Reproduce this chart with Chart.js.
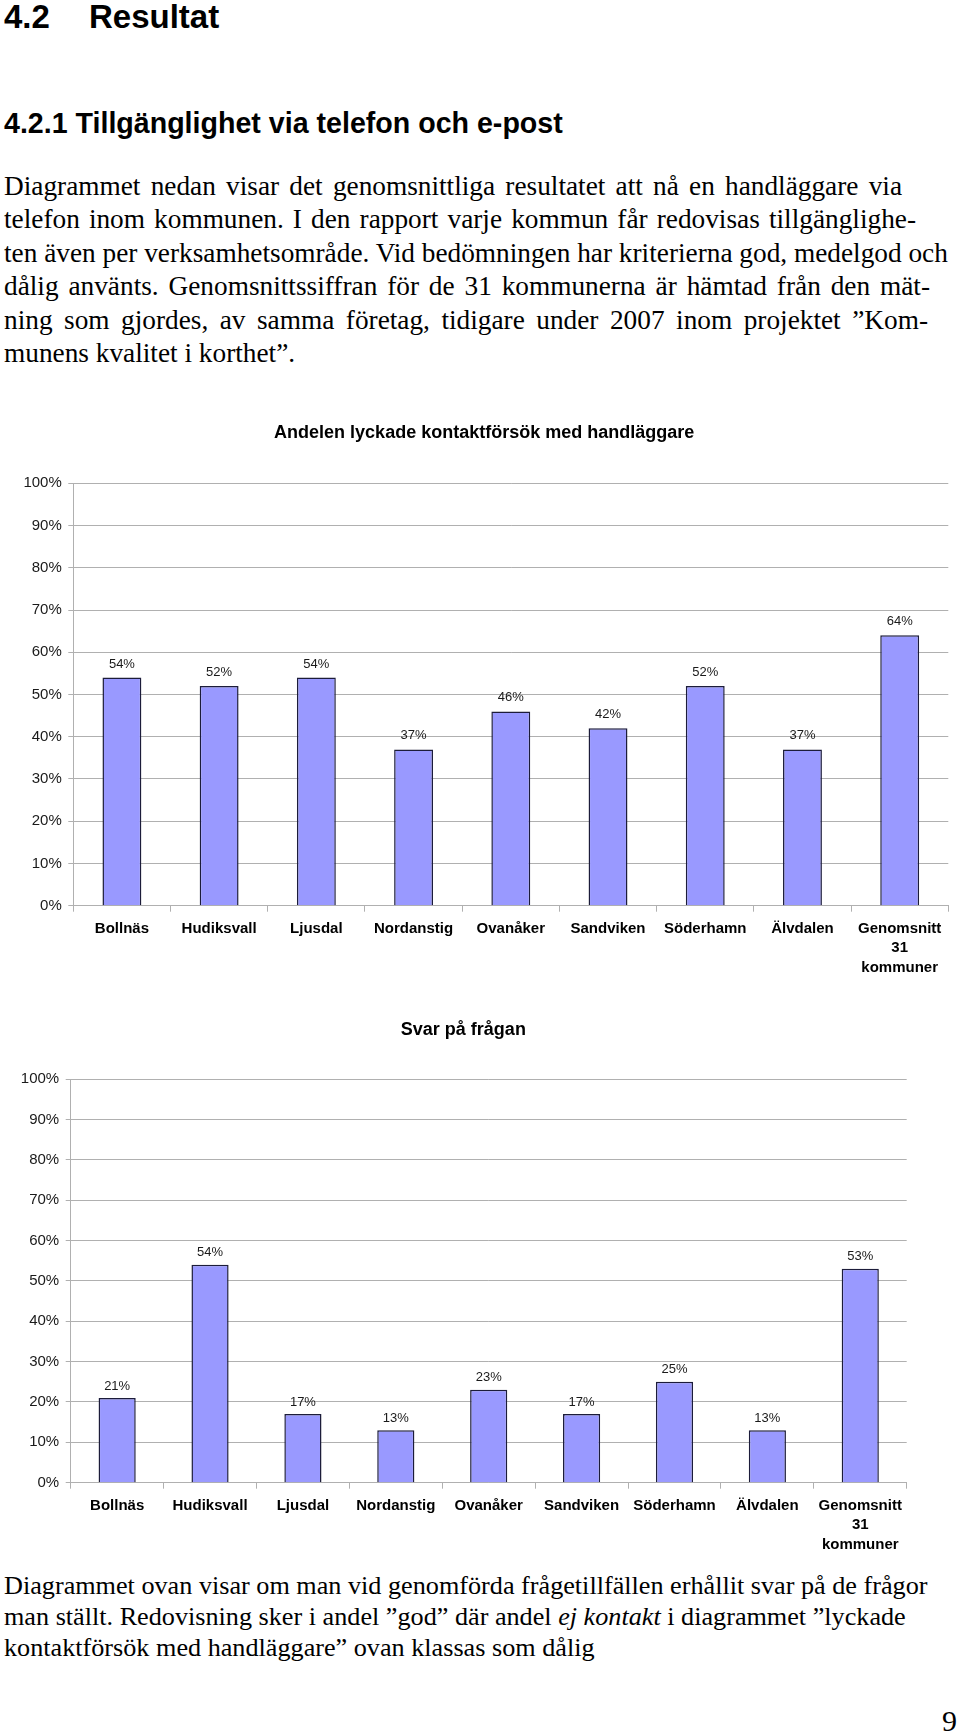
<!DOCTYPE html>
<html lang="sv">
<head>
<meta charset="utf-8">
<title>4.2 Resultat</title>
<script src="https://cdn.jsdelivr.net/npm/chart.js@4.4.1/dist/chart.umd.min.js"></script>
<style>
  html, body { margin: 0; padding: 0; background: #fff; }
  body { position: relative; width: 960px; height: 1736px; overflow: hidden; }
  .head { position: absolute; font-family: "Liberation Sans", Arial, sans-serif; font-weight: bold; color: #000; white-space: nowrap; }
  .h1 { top: 0px; font-size: 33px; line-height: 33px; }
  .h2 { top: 108.5px; left: 4px; font-size: 28.6px; line-height: 28.6px; }
  .txt { position: absolute; left: 4px; font-family: "Liberation Serif", "Times New Roman", serif; color: #000; white-space: nowrap; }
  .txt div { white-space: nowrap; }
  .txt .j { text-align: justify; text-align-last: justify; }
  #intro { top: 169.5px; font-size: 27.3px; line-height: 33.5px; }
  #outro { top: 1570px; font-size: 26.2px; line-height: 31px; }
  #pageno { position: absolute; left: 942px; top: 1706px; font-family: "Liberation Serif", serif; font-size: 30px; line-height: 30px; }
  canvas { position: absolute; left: 0; }
  #chart1 { top: 400px; }
  #chart2 { top: 1000px; }
</style>
</head>
<body>
<div class="head h1" style="left:4px">4.2</div>
<div class="head h1" style="left:89px">Resultat</div>
<div class="head h2">4.2.1 Tillgänglighet via telefon och e-post</div>

<div class="txt" id="intro">
  <div class="j" style="width:898px">Diagrammet nedan visar det genomsnittliga resultatet att nå en handläggare via</div>
  <div class="j" style="width:912px">telefon inom kommunen. I den rapport varje kommun får redovisas tillgänglighe-</div>
  <div>ten även per verksamhetsområde. Vid bedömningen har kriterierna god, medelgod och</div>
  <div class="j" style="width:926px">dålig använts. Genomsnittssiffran för de 31 kommunerna är hämtad från den mät-</div>
  <div class="j" style="width:924px">ning som gjordes, av samma företag, tidigare under 2007 inom projektet ”Kom-</div>
  <div>munens kvalitet i korthet”.</div>
</div>

<canvas id="chart1" width="960" height="600"></canvas>
<canvas id="chart2" width="925" height="560"></canvas>

<div class="txt" id="outro">Diagrammet ovan visar om man vid genomförda frågetillfällen erhållit svar på de frågor<br>man ställt. Redovisning sker i andel ”god” där andel <i>ej kontakt</i> i diagrammet ”lyckade<br>kontaktförsök med handläggare” ovan klassas som dålig</div>

<div id="pageno">9</div>

<script>
// kommuner (last one split over three lines like in the report)
const categories = ["Bollnäs", "Hudiksvall", "Ljusdal", "Nordanstig", "Ovanåker", "Sandviken", "Söderhamn", "Älvdalen", ["Genomsnitt", "31", "kommuner"]];
// andel lyckade kontaktförsök, %
const kontaktValues = [54, 52, 54, 37, 46, 42, 52, 37, 64];
// svar på frågan, %
const svarValues = [21, 54, 17, 13, 23, 17, 25, 13, 53];
// y axis labels
const yTickLabels = ["0%", "10%", "20%", "30%", "40%", "50%", "60%", "70%", "80%", "90%", "100%"];

const FONT = '"Liberation Sans", Arial, sans-serif';
const GRID = "#b0b0b0";

// draws the value above each bar
const barValueLabels = {
  id: "barValueLabels",
  afterDatasetsDraw(chart, args, opts) {
    const ctx = chart.ctx;
    ctx.save();
    ctx.font = "13px " + FONT;
    ctx.fillStyle = "#1a1a1a";
    ctx.textAlign = "center";
    ctx.textBaseline = "middle";
    const values = chart.data.datasets[0].data;
    chart.getDatasetMeta(0).data.forEach(function (bar, i) {
      ctx.fillText(values[i] + "%", bar.x, bar.y - opts.gap);
    });
    ctx.restore();
  }
};

function makeChart(id, title, values, g) {
  const ctx = document.getElementById(id).getContext("2d");
  return new Chart(ctx, {
    type: "bar",
    data: {
      labels: categories,
      datasets: [{
        data: values,
        backgroundColor: "#9999ff",
        borderColor: "#1c1c3a",
        borderWidth: 1.5,
        categoryPercentage: 1,
        barPercentage: 0.4
      }]
    },
    options: {
      responsive: false,
      animation: false,
      // left padding only moves the title centre; the y axis width makes up the rest
      layout: { padding: { left: 20, right: g.padRight, top: 0, bottom: 0 } },
      plugins: {
        legend: { display: false },
        tooltip: { enabled: false },
        title: {
          display: true,
          text: title,
          color: "#000",
          font: { family: FONT, size: 18, weight: "bold", lineHeight: 1.2 },
          padding: { top: g.titleTop, bottom: g.titleBottom }
        },
        barValueLabels: { gap: g.labelGap }
      },
      scales: {
        x: {
          afterFit: function (scale) { scale.height = g.xHeight; },
          grid: { drawOnChartArea: false, drawTicks: true, tickLength: 6, color: GRID, offset: true },
          border: { color: GRID, width: 1 },
          ticks: {
            color: "#000",
            padding: 7,
            maxRotation: 0,
            autoSkip: false,
            font: { family: FONT, size: 15, weight: "bold", lineHeight: 1.3 }
          }
        },
        y: {
          min: 0,
          max: 100,
          afterFit: function (scale) { scale.width = g.yWidth; },
          grid: { color: GRID, lineWidth: 1, tickLength: 5 },
          border: { color: GRID, width: 1 },
          ticks: {
            stepSize: 10,
            padding: 6.5,
            color: "#1a1a1a",
            font: { family: FONT, size: 15 },
            callback: function (value, index) { return yTickLabels[index]; }
          }
        }
      }
    },
    plugins: [barValueLabels]
  });
}

makeChart("chart1", "Andelen lyckade kontaktförsök med handläggare", kontaktValues,
  { padRight: 11.7, yWidth: 53.3, xHeight: 94.3, titleTop: 22.2, titleBottom: 39.5, labelGap: 13.5 });
makeChart("chart2", "Svar på frågan", svarValues,
  { padRight: 18.3, yWidth: 50.7, xHeight: 77.3, titleTop: 19.2, titleBottom: 38.2, labelGap: 12 });
</script>
</body>
</html>
